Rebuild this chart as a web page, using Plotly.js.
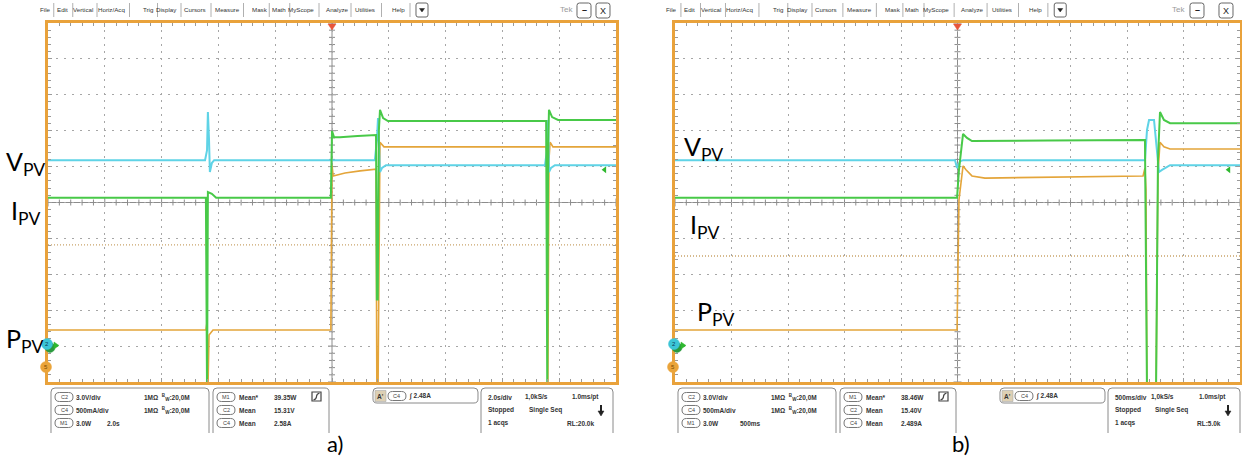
<!DOCTYPE html>
<html><head><meta charset="utf-8">
<script src="https://cdn.plot.ly/plotly-3.0.1.min.js"></script>
<style>html,body{margin:0;padding:0;background:#fff;overflow:hidden}#chart{width:1242px;height:459px}</style>
</head><body><div id="chart"></div>
<script>
// ===== DATA (time in s, level in screen divisions) =====
// Panel a) 2.0 s/div
const a_cyan_t   = [0, 5.53, 5.60, 5.63, 5.67, 5.70, 5.77, 5.85, 11.51, 11.58, 11.62, 11.65, 11.69, 11.76, 11.90, 17.50, 17.57, 17.61, 17.64, 17.71, 17.85, 20];
const a_cyan_v   = [1.18, 1.18, 1.46, 2.52, 1.74, 0.85, 1.10, 1.18, 1.18, 1.74, 2.35, 1.46, 0.85, 0.96, 1.04, 1.04, 1.46, 2.30, 0.85, 0.96, 1.04, 1.04];
const a_green_t  = [0, 5.56, 5.60, 5.63, 5.77, 5.92, 9.96, 10.00, 10.07, 10.28, 10.90, 11.55, 11.58, 11.61, 11.65, 11.69, 11.80, 11.97, 17.54, 17.58, 17.61, 17.64, 17.75, 17.96, 20];
const a_green_v  = [0.13, 0.13, -5.3, 0.29, 0.24, 0.13, 0.13, 1.99, 1.82, 1.82, 1.85, 1.88, -2.7, -2.7, 2.0, 2.58, 2.35, 2.27, 2.27, -5.3, 1.5, 2.58, 2.38, 2.30, 2.30];
const a_orange_t = [0, 5.56, 5.60, 5.63, 5.67, 5.81, 9.96, 10.00, 10.04, 10.46, 10.99, 11.55, 11.58, 11.62, 11.69, 11.83, 17.54, 17.57, 17.60, 17.64, 17.68, 17.78, 20];
const a_orange_v = [-3.55, -3.55, -3.33, -5.3, -3.69, -3.55, -3.55, 1.04, 0.74, 0.82, 0.88, 0.93, -5.3, -5.3, 1.68, 1.55, 1.55, 1.32, -5.3, 1.2, 1.68, 1.55, 1.55];
const a_refLevel = -1.18;
// Panel b) 500 ms/div
const b_cyan_t   = [0, 2.478, 2.496, 2.522, 2.55, 4.159, 4.177, 4.195, 4.239, 4.265, 4.283, 4.310, 4.381, 5];
const b_cyan_v   = [1.18, 1.18, 0.96, 1.15, 1.18, 1.18, 2.02, 2.30, 2.30, 1.46, 0.85, 0.91, 1.04, 1.04];
const b_green_t  = [0, 2.496, 2.513, 2.549, 2.584, 2.628, 3.30, 4.159, 4.177, 4.257, 4.274, 4.292, 4.327, 4.381, 5];
const b_green_v  = [0.13, 0.13, 0.91, 1.91, 1.80, 1.71, 1.73, 1.74, -5.3, -5.3, 1.2, 2.52, 2.30, 2.21, 2.21];
const b_orange_t = [0, 2.496, 2.513, 2.549, 2.575, 2.628, 2.743, 3.319, 4.142, 4.159, 4.168, 4.177, 4.257, 4.274, 4.292, 4.327, 4.381, 5];
const b_orange_v = [-3.55, -3.55, 0.07, 1.02, 0.91, 0.74, 0.68, 0.71, 0.74, 0.96, 0.35, -5.3, -5.3, 0.8, 1.68, 1.55, 1.49, 1.49];
const b_refLevel = -1.49;

// Scope readouts
const chanTags   = ['C2', 'C4', 'M1'];
const a_chanScale = ['3.0V/div', '500mA/div', '3.0W'];
const b_chanScale = ['3.0V/div', '500mA/div', '3.0W'];
const a_mathTime = '2.0s', b_mathTime = '500ms';
const measTags   = ['M1', 'C2', 'C4'];
const measNames  = ['Mean*', 'Mean', 'Mean'];
const a_measVals = ['39.35W', '15.31V', '2.58A'];
const b_measVals = ['38.46W', '15.40V', '2.489A'];
const trigLevel  = '2.48A';
const a_horiz = ['2.0s/div', '1,0kS/s', '1.0ms/pt', 'Stopped', 'Single Seq', '1 acqs', 'RL:20.0k'];
const b_horiz = ['500ms/div', '1,0kS/s', '1.0ms/pt', 'Stopped', 'Single Seq', '1 acqs', 'RL:5.0k'];
const menuItems = ['File','Edit','Vertical','Horiz/Acq','Trig','Display','Cursors','Measure','Mask','Math','MyScope','Analyze','Utilities','Help'];
const panelCaptions = ['a)', 'b)'];

// ===== LAYOUT HELPERS =====
const W = 1242, H = 459;
const px = x => x / W, py = y => 1 - y / H;
const P = (x, y) => px(x).toFixed(5) + ',' + py(y).toFixed(5);
const FT = 23, FB = 382;
const C_CYAN = '#5fd3e6', C_GREEN = '#48c948', C_ORANGE = '#e4a53a', C_FRAME = '#e9a23b';
const shapes = [], annotations = [], traces = [];

function rrect(x0, y0, x1, y1, r, closed) {
  let d = `M${P(x0, closed ? y1 - r : y1)} L${P(x0, y0 + r)} Q${P(x0, y0)} ${P(x0 + r, y0)} L${P(x1 - r, y0)} Q${P(x1, y0)} ${P(x1, y0 + r)} L${P(x1, closed ? y1 - r : y1)}`;
  if (closed) d += ` Q${P(x1, y1)} ${P(x1 - r, y1)} L${P(x0 + r, y1)} Q${P(x0, y1)} ${P(x0, y1 - r)} Z`;
  return d;
}
function box(x0, y0, x1, y1, r, closed, fill, col) {
  shapes.push({type: 'path', xref: 'paper', yref: 'paper', path: rrect(x0, y0, x1, y1, r, closed),
    line: {color: col || '#8a8a8a', width: 1}, fillcolor: fill || 'rgba(0,0,0,0)', layer: 'above'});
}
function txt(x, y, text, o) {
  o = o || {};
  annotations.push({xref: 'paper', yref: 'paper', x: px(x), y: py(y), text: text, showarrow: false,
    xanchor: o.xa || 'left', yanchor: o.ya || 'middle', borderpad: 0,
    font: {family: o.fam || 'Liberation Sans, Arial, sans-serif', size: o.size || 7, color: o.color || '#333', weight: o.w || 'normal'}});
}
function circ(cx, cy, r, fill) {
  shapes.push({type: 'circle', xref: 'paper', yref: 'paper', x0: px(cx - r), x1: px(cx + r), y0: py(cy + r), y1: py(cy - r),
    line: {color: fill, width: 0.5}, fillcolor: fill, layer: 'above'});
}
function tri(pts, fill) {
  shapes.push({type: 'path', xref: 'paper', yref: 'paper', path: `M${P(pts[0], pts[1])} L${P(pts[2], pts[3])} L${P(pts[4], pts[5])} Z`,
    line: {color: fill, width: 0.5}, fillcolor: fill, layer: 'above'});
}
function pill(x, y, tag) {
  box(x, y - 4.5, x + 18, y + 4.5, 4.5, true, '#fff', '#777');
  txt(x + 9, y, tag, {xa: 'center', size: 5.5, color: '#444'});
}

function buildPanel(k, L, R, secPerDiv, cyT, cyV, grT, grV, orT, orV, ref, chanScale, mathTime, measVals, horiz, caption, menuScale, btn, hcols, labels) {
  const xa = k === 0 ? 'x' : 'x2', ya = k === 0 ? 'y' : 'y2';
  const tEnd = secPerDiv * 10, tMid = secPerDiv * 5;
  const pxPerSec = (R - L) / tEnd, pxPerDiv = (FB - FT) / 10;
  // traces
  traces.push({x: [0, tEnd], y: [ref, ref], xaxis: xa, yaxis: ya, mode: 'lines', line: {color: '#c9a46b', width: 1.3, dash: '1px,2px'}, hoverinfo: 'skip'});
  traces.push({x: orT, y: orV, xaxis: xa, yaxis: ya, mode: 'lines', line: {color: C_ORANGE, width: 1.6}, hoverinfo: 'skip'});
  traces.push({x: cyT, y: cyV, xaxis: xa, yaxis: ya, mode: 'lines', line: {color: C_CYAN, width: 2}, hoverinfo: 'skip'});
  traces.push({x: grT, y: grV, xaxis: xa, yaxis: ya, mode: 'lines', line: {color: C_GREEN, width: 2}, hoverinfo: 'skip'});
  traces.push({x: [tEnd * 0.98], y: [0.91], xaxis: xa, yaxis: ya, mode: 'markers', marker: {symbol: 'triangle-left', size: 6, color: '#2fb82f'}, hoverinfo: 'skip'});
  // center cross with ticks
  shapes.push({type: 'line', xref: xa, yref: ya, x0: tMid, x1: tMid, y0: -5, y1: 5, line: {color: '#8c8c8c', width: 1}, layer: 'below'});
  shapes.push({type: 'line', xref: xa, yref: ya, x0: 0, x1: tEnd, y0: 0, y1: 0, line: {color: '#8c8c8c', width: 1}, layer: 'below'});
  let d = '';
  for (let i = 0; i <= 50; i++) {
    const l = (i % 5 === 0 ? 4 : 3);
    const x = i * 0.2 * secPerDiv, ly = l / pxPerDiv;
    d += `M${x.toFixed(4)},${(-ly).toFixed(4)} L${x.toFixed(4)},${ly.toFixed(4)} `;
    const y = -5 + i * 0.2, lx = l / pxPerSec;
    d += `M${(tMid - lx).toFixed(4)},${y.toFixed(4)} L${(tMid + lx).toFixed(4)},${y.toFixed(4)} `;
  }
  shapes.push({type: 'path', xref: xa, yref: ya, path: d, line: {color: '#8c8c8c', width: 1}, layer: 'below'});
  // trigger position marker
  const c = (L + R) / 2;
  tri([c - 4, FT + 1, c + 4, FT + 1, c, FT + 7], '#e8553a');
  // left channel markers
  circ(L + 2, 347.5, 5, '#2a9a3e');
  circ(L - 1, 344, 5.5, '#3cc5d6');
  txt(L - 1, 344, '2', {xa: 'center', size: 6, color: '#0a3a5a'});
  tri([L + 6, 342, L + 6, 349, L + 11, 345.5], '#2fb82f');
  circ(L - 2, 367, 5.5, '#eaa43a');
  txt(L - 2, 367, '5', {xa: 'center', size: 6, color: '#7a4a00'});
  // channel labels
  txt(labels[0][0], labels[0][1], 'V<sub>PV</sub>', {fam: 'Lato, Open Sans, sans-serif', size: 25, color: '#000'});
  txt(labels[1][0], labels[1][1], 'I<sub>PV</sub>', {fam: 'Lato, Open Sans, sans-serif', size: 25, color: '#000'});
  txt(labels[2][0], labels[2][1], 'P<sub>PV</sub>', {fam: 'Lato, Open Sans, sans-serif', size: 25, color: '#000'});
  // menu bar
  const offs = [-3, 14.5, 35, 63, 100, 119, 147, 179, 212, 230.5, 253, 289, 317, 350, 374];
  menuItems.forEach((m, i) => {
    txt(L + offs[i] * menuScale, 10, m, {xa: 'center', size: 6.2, color: '#333'});
    const sx = L + (offs[i] + offs[i + 1]) / 2 * menuScale;
    shapes.push({type: 'line', xref: 'paper', yref: 'paper', x0: px(sx), x1: px(sx), y0: py(3), y1: py(17), line: {color: '#b0b0b0', width: 1}});
  });
  const vx = L + offs[14] * menuScale;
  box(vx - 6, 3, vx + 6, 17, 2, true, '#fff', '#666');
  tri([vx - 2.5, 8.5, vx + 2.5, 8.5, vx, 12], '#222');
  txt(btn[0], 10, 'Tek', {xa: 'center', size: 8, color: '#9a9a9a'});
  box(btn[1] - 7, 3, btn[1] + 7, 18, 2.5, true, '#fff', '#666');
  txt(btn[1], 10, '–', {xa: 'center', size: 9, color: '#222', w: 'bold'});
  box(btn[2] - 7, 3, btn[2] + 7, 18, 2.5, true, '#fff', '#666');
  txt(btn[2], 10.5, 'X', {xa: 'center', size: 9, color: '#222'});
  // readout boxes
  const r1 = 397, r2 = 410, r3 = 423, bt = 388, bb = 433;
  box(L + 3, bt, L + 161, bb, 4, false);
  box(L + 165, bt, L + 281, bb, 4, false);
  box(L + 325, bt, L + 430, 403, 4, true);
  box(L + 433, bt, L + 565, bb, 4, false);
  const fb = {w: 'bold', size: 6.5, color: '#333'};
  [r1, r2, r3].forEach((ry, i) => {
    pill(L + 7, ry, chanTags[i]);
    txt(L + 27, ry, chanScale[i], fb);
    pill(L + 169, ry, measTags[i]);
    txt(L + 190, ry, measNames[i], fb);
    txt(L + 225, ry, measVals[i], fb);
  });
  txt(L + 95, r1, '1MΩ  <sup>B</sup><sub>W</sub>:20,0M', fb);
  txt(L + 95, r2, '1MΩ  <sup>B</sup><sub>W</sub>:20,0M', fb);
  txt(L + 58 + (k === 1 ? 6 : 0), r3, mathTime, fb);
  shapes.push({type: 'rect', xref: 'paper', yref: 'paper', x0: px(L + 264), x1: px(L + 273), y0: py(401), y1: py(392), line: {color: '#444', width: 1.2}, fillcolor: '#fff'});
  shapes.push({type: 'path', xref: 'paper', yref: 'paper', path: `M${P(L + 265.5, 400)} Q${P(L + 268.5, 399)} ${P(L + 268.5, 396.5)} Q${P(L + 268.5, 394)} ${P(L + 271.5, 393)}`, line: {color: '#444', width: 1.2}});
  shapes.push({type: 'rect', xref: 'paper', yref: 'paper', x0: px(L + 327), x1: px(L + 338), y0: py(401.5), y1: py(390.5), line: {color: '#aaa', width: 0.6}, fillcolor: '#ddd0b4'});
  txt(L + 332.5, 396, "A'", {xa: 'center', size: 6.5, color: '#333', w: 'bold'});
  pill(L + 340, 396, 'C4');
  txt(L + 360, 396, '∫ ' + trigLevel, fb);
  txt(L + 439, r1, horiz[0], fb);
  txt(L + hcols[0], r1, horiz[1], fb);
  txt(L + 523, r1, horiz[2], fb);
  txt(L + 439, r2, horiz[3], fb);
  txt(L + hcols[1], r2, horiz[4], fb);
  txt(L + 439, r3, horiz[5], fb);
  txt(L + 547, r3, horiz[6], Object.assign({xa: 'right'}, fb));
  shapes.push({type: 'line', xref: 'paper', yref: 'paper', x0: px(L + 553), x1: px(L + 553), y0: py(405), y1: py(412), line: {color: '#222', width: 2}});
  tri([L + 550, 411, L + 556, 411, L + 553, 416], '#222');
  // caption
  txt((L + R) / 2 + 3, 443, caption, {xa: 'center', size: 22, color: '#000', fam: 'Lato, Open Sans, sans-serif'});
}

const axBase = {showgrid: true, gridcolor: '#a6a6a6', gridwidth: 1, zeroline: false, showline: true, linecolor: C_FRAME, linewidth: 2.6,
  mirror: 'allticks', ticks: 'inside', ticklen: 4, tickcolor: '#9a9a9a', tickwidth: 1, showticklabels: false, fixedrange: true};
function xAxis(L, R, sec) {
  return Object.assign({}, axBase, {domain: [px(L), px(R)], range: [0, sec * 10], dtick: sec, tick0: 0, griddash: '2px,5px',
    minor: {dtick: sec * 0.2, tick0: 0, ticks: 'inside', ticklen: 3, tickcolor: '#9a9a9a', showgrid: false}});
}
function yAxis() {
  return Object.assign({}, axBase, {domain: [py(FB), py(FT)], range: [-5, 5], dtick: 1, tick0: -5, griddash: '2px,6px',
    minor: {dtick: 0.2, tick0: -5, ticks: 'inside', ticklen: 3, tickcolor: '#9a9a9a', showgrid: false}});
}

buildPanel(0, 48, 616, 2.0, a_cyan_t, a_cyan_v, a_green_t, a_green_v, a_orange_t, a_orange_v, a_refLevel,
  a_chanScale, a_mathTime, a_measVals, a_horiz, panelCaptions[0], 1.0, [566, 584, 603], [476, 480],
  [[5, 163], [10, 212], [5, 340]]);
buildPanel(1, 675, 1240, 0.5, b_cyan_t, b_cyan_v, b_green_t, b_green_v, b_orange_t, b_orange_v, b_refLevel,
  b_chanScale, b_mathTime, b_measVals, b_horiz, panelCaptions[1], 1.03, [1178, 1197, 1226], [475, 479],
  [[683, 148], [689, 226], [696, 313]]);

const layout = {
  width: W, height: H, margin: {l: 0, r: 0, t: 0, b: 0, pad: 0}, showlegend: false,
  paper_bgcolor: '#fff', plot_bgcolor: '#fff',
  xaxis: Object.assign(xAxis(48, 616, 2.0), {anchor: 'y'}),
  yaxis: Object.assign(yAxis(), {anchor: 'x'}),
  xaxis2: Object.assign(xAxis(675, 1240, 0.5), {anchor: 'y2'}),
  yaxis2: Object.assign(yAxis(), {anchor: 'x2'}),
  shapes: shapes, annotations: annotations
};
Plotly.newPlot('chart', traces, layout, {staticPlot: true, displayModeBar: false});
</script></body></html>
